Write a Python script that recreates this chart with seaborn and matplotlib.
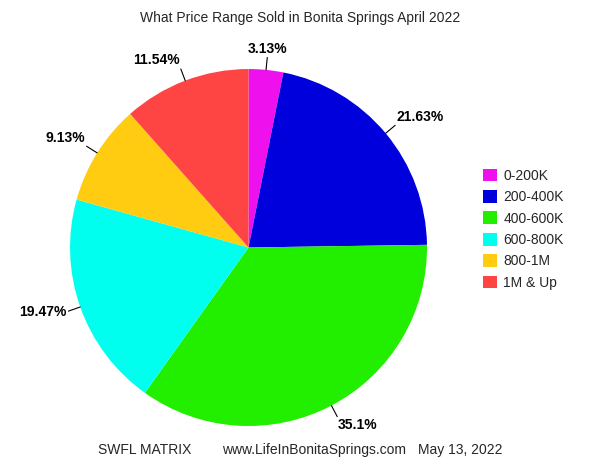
import seaborn as sns
import matplotlib.pyplot as plt
import numpy as np
from matplotlib.patches import Patch

# data
categories = ['0-200K', '200-400K', '400-600K', '600-800K', '800-1M', '1M & Up']
shares = [3.13, 21.63, 35.1, 19.47, 9.13, 11.54]
labels = ['3.13%', '21.63%', '35.1%', '19.47%', '9.13%', '11.54%']
colors = ['#ee11ee', '#0000dd', '#22ee00', '#00ffee', '#ffcc11', '#ff4444']

sns.set_theme(style='white')
plt.rcParams['font.family'] = ['Liberation Sans', 'DejaVu Sans']

fig = plt.figure(figsize=(6, 4.63), dpi=100)
ax = fig.add_axes([0.1167, 0.0799, 0.595, 0.771])

palette = sns.color_palette(colors)
wedges, _ = ax.pie(shares, colors=palette, startangle=90, counterclock=False,
                   radius=1, wedgeprops=dict(linewidth=0))
ax.set_xlim(-1, 1)
ax.set_ylim(-1, 1)
ax.set_aspect('equal')
ax.axis('off')

# percentage labels with short leader lines
for w, lab in zip(wedges, labels):
    ang = np.deg2rad((w.theta1 + w.theta2) / 2)
    c, s = np.cos(ang), np.sin(ang)
    ax.plot([1.0 * c, 1.07 * c], [1.0 * s, 1.07 * s], color='black', lw=0.8,
            clip_on=False)
    ha = 'left' if c > 0.3 else ('right' if c < -0.3 else 'center')
    va = 'bottom' if s > 0.5 else ('top' if s < -0.5 else 'center')
    ax.text(1.08 * c, 1.08 * s, lab, ha=ha, va=va, fontsize=10,
            fontweight='bold', color='black', clip_on=False)

handles = [Patch(facecolor=col, edgecolor='none') for col in colors]
fig.legend(handles, categories, loc='upper left',
           bbox_to_anchor=(477 / 600, 1 - 163 / 463), frameon=False,
           fontsize=10, handlelength=1.05, handleheight=1.05,
           labelspacing=0.52, handletextpad=0.45, borderaxespad=0)

fig.text(0.5, 1 - 18 / 463, 'What Price Range Sold in Bonita Springs April 2022',
         ha='center', va='center', fontsize=10)
fig.text(98 / 600, 1 - 450 / 463, 'SWFL MATRIX', ha='left', va='center', fontsize=10)
fig.text(222 / 600, 1 - 450 / 463, 'www.LifeInBonitaSprings.com', ha='left',
         va='center', fontsize=10)
fig.text(418 / 600, 1 - 450 / 463, 'May 13, 2022', ha='left', va='center', fontsize=10)

fig.savefig('out.png', dpi=100, facecolor='white')
